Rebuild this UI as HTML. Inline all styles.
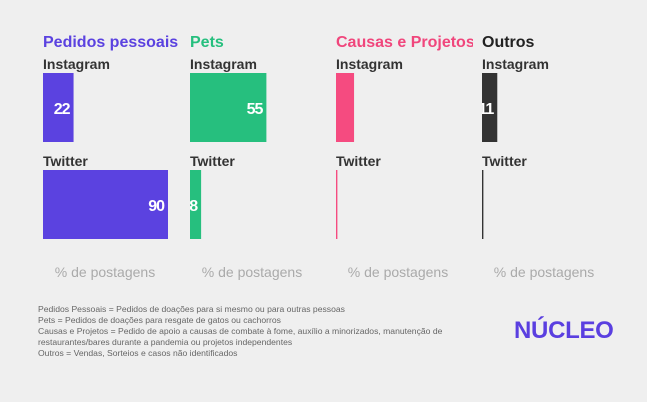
<!DOCTYPE html>
<html><head><meta charset="utf-8"><style>
body{margin:0;background:#efefef;width:647px;height:402px;overflow:hidden;font-family:"Liberation Sans",sans-serif}
.note{position:absolute;left:38px;font-size:8.6px;color:#666;line-height:11px;top:304px}
.logo{position:absolute;left:514px;top:317px;font-size:24px;font-weight:bold;color:#5a3fe0;letter-spacing:-0.3px}
</style></head><body>
<svg width="647" height="300" style="position:absolute;left:0;top:0" id="c"></svg>
<div class="note">Pedidos Pessoais = Pedidos de doações para si mesmo ou para outras pessoas<br>Pets = Pedidos de doações para resgate de gatos ou cachorros<br>Causas e Projetos = Pedido de apoio a causas de combate à fome, auxílio a minorizados, manutenção de<br>restaurantes/bares durante a pandemia ou projetos independentes<br>Outros = Vendas, Sorteios e casos não identificados</div>
<div class="logo">NÚCLEO</div>
<script>
const categories=["Pedidos pessoais","Pets","Causas e Projetos","Outros"];
const instagram=[22,55,13,11];
const twitter=[90,8,1,1];
const instaLabels=["22","55","","11"];
const twitterLabels=["90","8","",""];
const colors=["#5b42e0","#26bf7e","#f54b80","#333333"];
const titleColors=["#5b42e0","#26bf7e","#f0467c","#222222"];
const svg=document.getElementById('c');const NS="http://www.w3.org/2000/svg";
const panelX=[43,190,336,482];const pw=137;
const x=v=>v*125/90;
function mk(t,a,txt){const e=document.createElementNS(NS,t);for(const k in a)e.setAttribute(k,a[k]);if(txt!==undefined)e.textContent=txt;svg.appendChild(e);return e;}
categories.forEach((c,i)=>{
 const px=panelX[i];
 const cp=mk('clipPath',{id:'cp'+i});const r=document.createElementNS(NS,'rect');r.setAttribute('x',px);r.setAttribute('y',0);r.setAttribute('width',pw);r.setAttribute('height',300);cp.appendChild(r);
 let e=mk('text',{x:px,y:47,'font-size':16,'font-weight':'bold',fill:titleColors[i],'clip-path':'url(#cp'+i+')'},c);
 
 [[instagram,instaLabels,"Instagram",73],[twitter,twitterLabels,"Twitter",170]].forEach(([arr,lab,name,y])=>{
  let t=mk('text',{x:px,y:y-4,'font-size':14,'font-weight':'bold',fill:'#333'},name);
  
  let b=mk('rect',{x:px,y:y,width:Math.max(x(arr[i]),1),height:69,fill:colors[i]});
  
  if(lab[i]){let l=mk('text',{x:px+x(arr[i])-4,y:y+41,'font-size':16,'font-weight':'bold','letter-spacing':-1,fill:'#fff','text-anchor':'end','clip-path':'url(#cp'+i+')'},lab[i]);
   }
 });
 let a=mk('text',{x:px+62,y:277,'font-size':14,fill:'#aaa','text-anchor':'middle'},'% de postagens');
 
});
</script>
</body></html>
